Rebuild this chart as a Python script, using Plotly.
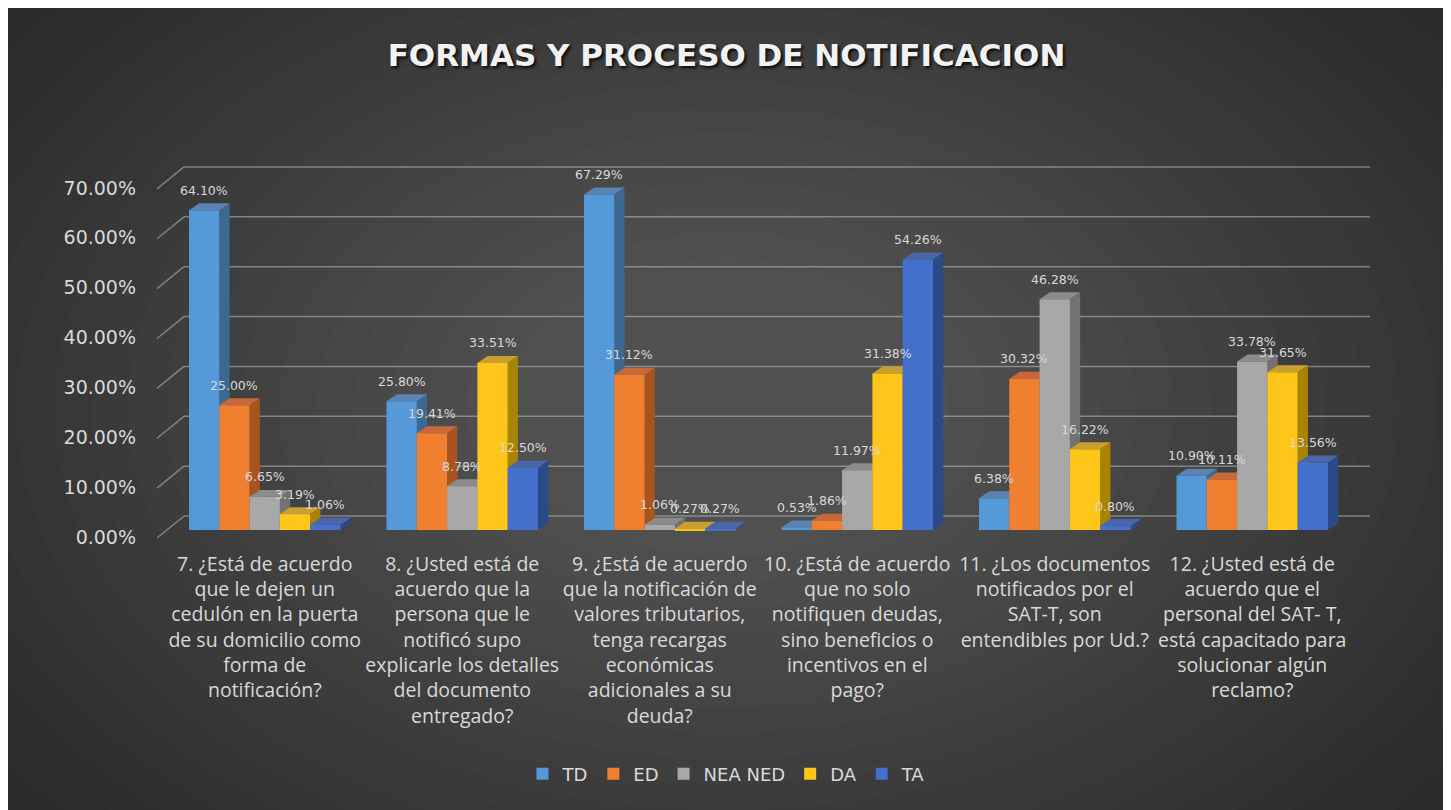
import numpy as np
import plotly.graph_objects as go

# ---------------- data ----------------
categories = [
    "7. ¿Está de acuerdo<br>que le dejen un<br>cedulón en la puerta<br>de su domicilio como<br>forma de<br>notificación?",
    "8. ¿Usted está de<br>acuerdo que la<br>persona que le<br>notificó supo<br>explicarle los detalles<br>del documento<br>entregado?",
    "9. ¿Está de acuerdo<br>que la notificación de<br>valores tributarios,<br>tenga recargas<br>económicas<br>adicionales a su<br>deuda?",
    "10. ¿Está de acuerdo<br>que no solo<br>notifiquen deudas,<br>sino beneficios o<br>incentivos en el<br>pago?",
    "11. ¿Los documentos<br>notificados por el<br>SAT-T, son<br>entendibles por Ud.?",
    "12. ¿Usted está de<br>acuerdo que el<br>personal del SAT- T,<br>está capacitado para<br>solucionar algún<br>reclamo?",
]
series_names = ["TD", "ED", "NEA NED", "DA", "TA"]
td = [64.10, 25.80, 67.29, 0.53, 6.38, 10.90]
ed = [25.00, 19.41, 31.12, 1.86, 30.32, 10.11]
nea_ned = [6.65, 8.78, 1.06, 11.97, 46.28, 33.78]
da = [3.19, 33.51, 0.27, 31.38, 16.22, 31.65]
ta = [1.06, 12.50, 0.27, 54.26, 0.80, 13.56]
y_ticks = [0, 10, 20, 30, 40, 50, 60, 70]
title_text = "FORMAS Y PROCESO DE NOTIFICACION"

# ---------------- styling ----------------
W, H = 1437, 802           # figure size (page adds an 8px body margin)
OFF = 8


def fx(px):
    return (px - OFF) / W


def fy(py):
    return 1 - (py - OFF) / H


FONT = "DejaVu Sans"
TXT = "#d9d9d9"
front_cols = ["#5599d8", "#f07f30", "#a8a8a8", "#ffc61a", "#4470cc"]
side_cols = ["#3d6894", "#a85420", "#727272", "#a88400", "#2b4a88"]
top_cols = ["#5b84b4", "#c8683a", "#8c8c8c", "#c9a030", "#4a66a8"]

BARGAP = 0.233
NS = len(series_names)
BW = (1 - BARGAP) / NS          # bar width in category units
DX = 0.052                      # depth offset (category units)
DY = 1.4                        # depth offset (value units)
BACK_DY = 2.8                   # back wall offset (value units)
FRONT_DY = -1.6                 # front edge offset (value units)

X_DOM = [fx(166), fx(1351)]
Y_RANGE = [-3, 75]
Y_DOM = [fy(547.02), fy(156.5)]

all_series = [td, ed, nea_ned, da, ta]
xs = list(range(len(categories)))

fig = go.Figure()
for s, (name, vals) in enumerate(zip(series_names, all_series)):
    fig.add_trace(go.Bar(
        x=xs, y=vals, name=name,
        marker=dict(color=front_cols[s], line=dict(width=0)),
        hoverinfo="skip",
    ))

shapes = []
# radial background glow
for k in np.linspace(1.05, 0.25, 20):
    shapes.append(dict(type="circle", xref="paper", yref="paper",
                       x0=0.5 - 0.62 * k, x1=0.5 + 0.62 * k,
                       y0=0.5 - 0.75 * k, y1=0.5 + 0.75 * k,
                       fillcolor="rgba(255,255,255,0.011)", line=dict(width=0), layer="below"))
# back-wall gridlines and diagonals
for t in y_ticks:
    shapes.append(dict(type="line", xref="paper", yref="y", x0=fx(184), x1=fx(1370),
                       y0=t + BACK_DY, y1=t + BACK_DY,
                       line=dict(color="rgba(200,200,200,0.5)", width=1.5), layer="below"))
    shapes.append(dict(type="line", xref="paper", yref="y", x0=fx(157), x1=fx(184),
                       y0=t + FRONT_DY, y1=t + BACK_DY,
                       line=dict(color="rgba(200,200,200,0.5)", width=1.5), layer="below"))

side_shapes, top_shapes, annots = [], [], []
for s, vals in enumerate(all_series):
    for c, v in enumerate(vals):
        xc = c + (s - (NS - 1) / 2) * BW
        L, R = xc - BW / 2, xc + BW / 2
        side_shapes.append(dict(
            type="path", xref="x", yref="y", layer="below",
            path=f"M{R},{v} L{R + DX},{v + DY} L{R + DX},{DY} L{R},0 Z",
            fillcolor=side_cols[s], line=dict(width=0)))
        top_shapes.append(dict(
            type="path", xref="x", yref="y", layer="below",
            path=f"M{L},{v} L{R},{v} L{R + DX},{v + DY} L{L + DX},{v + DY} Z",
            fillcolor=top_cols[s], line=dict(width=0)))
        annots.append(dict(
            x=xc, y=v, xref="x", yref="y", text=f"{v:.2f}%", showarrow=False,
            yshift=20, xanchor="center", yanchor="middle",
            font=dict(family=FONT, size=12.5, color=TXT)))

shapes += side_shapes + top_shapes

fig.update_layout(
    width=W, height=H,
    margin=dict(l=0, r=0, t=0, b=0, pad=0),
    paper_bgcolor="#282828", plot_bgcolor="rgba(0,0,0,0)",
    barmode="group", bargap=BARGAP, bargroupgap=0,
    title=dict(text=title_text, x=0.5, xanchor="center", y=fy(55), yanchor="middle",
               yref="container",
               font=dict(family=FONT, size=31, color="#f2f2f2", weight="bold",
                         shadow="2px 2px 3px rgba(0,0,0,0.85)")),
    xaxis=dict(domain=X_DOM, range=[-0.5, len(categories) - 0.5],
               tickvals=xs, ticktext=categories, showgrid=False, zeroline=False,
               showline=False, ticks="", ticklabelstandoff=5,
               tickfont=dict(family="Open Sans", size=19.5, color=TXT)),
    yaxis=dict(domain=Y_DOM, range=Y_RANGE, anchor="free", position=(136 - OFF) / W,
               tickvals=y_ticks, ticktext=[f"{t:.2f}%" for t in y_ticks],
               showgrid=False, zeroline=False, showline=False, ticks="",
               ticklabelshift=7,
               tickfont=dict(family=FONT, size=19, color=TXT)),
    legend=dict(orientation="h", x=0.5, xanchor="center", y=fy(777), yanchor="middle",
                font=dict(family=FONT, size=18, color=TXT), bgcolor="rgba(0,0,0,0)"),
    shapes=shapes,
    annotations=annots,
)

fig.write_html("out.html")
